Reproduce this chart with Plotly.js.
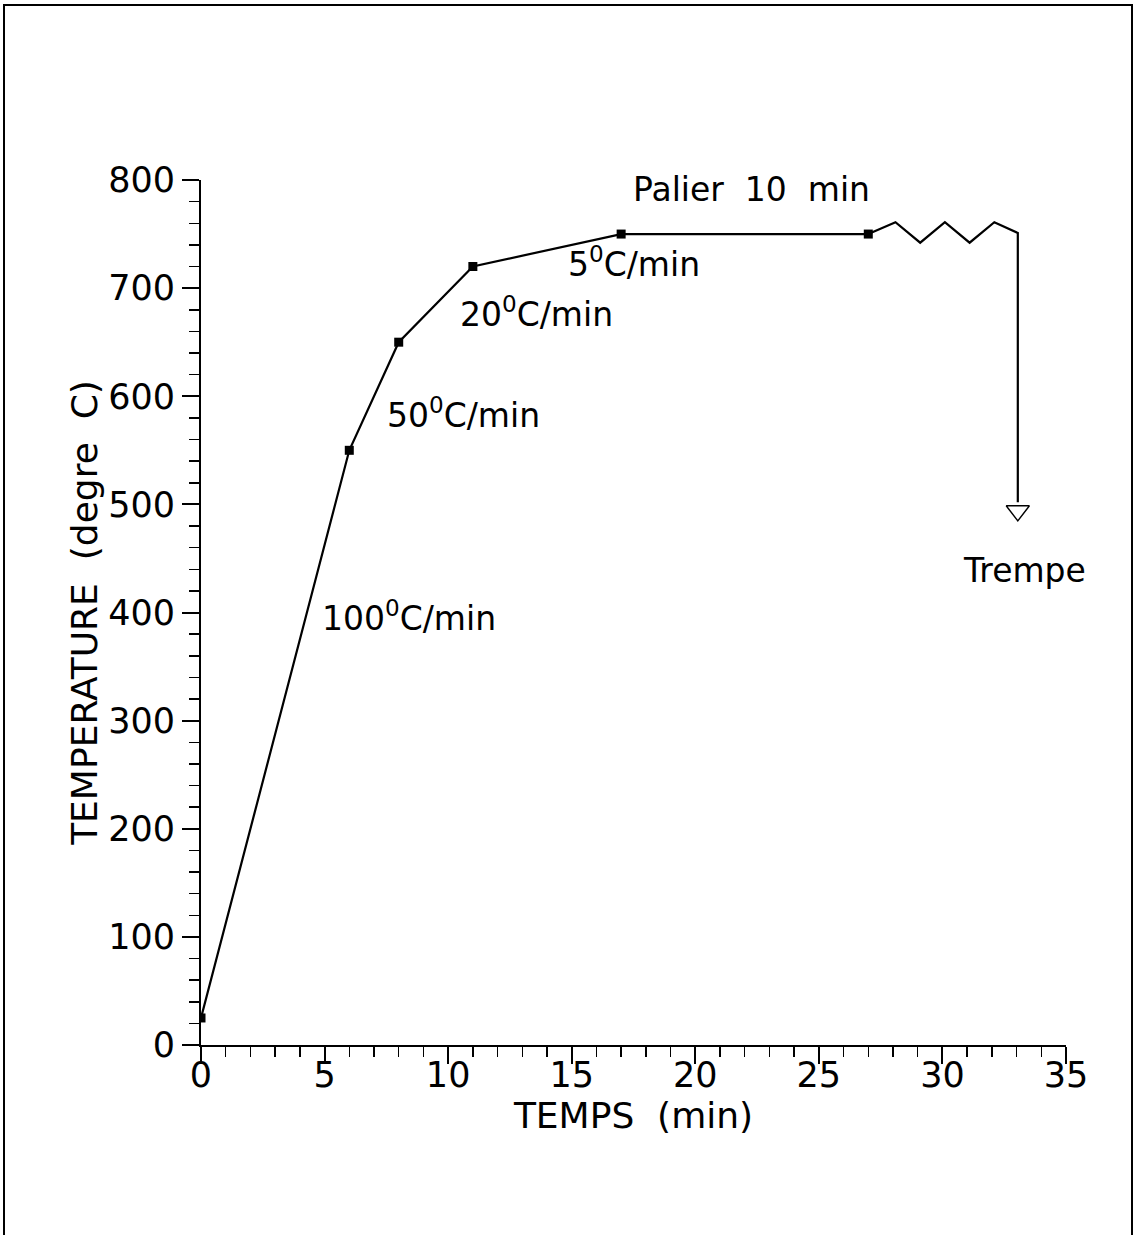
<!DOCTYPE html>
<html>
<head>
<meta charset="utf-8">
<script src="https://cdn.plot.ly/plotly-3.0.1.min.js"></script>
<style>
  html, body { margin: 0; padding: 0; background: #fff; }
  #wrap { position: relative; width: 1135px; height: 1235px; overflow: hidden; }
  #chart { width: 1135px; height: 1235px; }
  #frame { position: absolute; left: 3px; top: 4px; width: 1126px; height: 1250px;
           border: 2px solid #000; pointer-events: none; }
</style>
</head>
<body>
<div id="wrap">
  <div id="chart"></div>
  <div id="frame"></div>
</div>
<script>
// Heating cycle: time (min) and temperature (degre C) at each stage change
const stageTime = [0, 6, 8, 11, 17, 27];
const stageTemp = [25, 550, 650, 720, 750, 750];

// Quench branch: zigzag after the hold, then vertical drop to the arrow
const quenchTime = [27, 28.1, 29.1, 30.1, 31.1, 32.1, 33.05, 33.05];
const quenchTemp = [750, 761, 742, 761, 742, 761, 751, 502];
const arrowTime = [33.05];
const arrowTemp = [494];

// Segment labels
const labelText = ['100<sup>0</sup>C/min', '50<sup>0</sup>C/min', '20<sup>0</sup>C/min',
                   '5<sup>0</sup>C/min', 'Palier\u00a0\u00a010\u00a0\u00a0min', 'Trempe'];
const labelX = [4.8, 7.45, 10.4, 14.75, 17.4, 30.75];
const labelY = [396, 584, 677, 724, 791, 439];

const xTickVals = [0, 5, 10, 15, 20, 25, 30, 35];
const yTickVals = [0, 100, 200, 300, 400, 500, 600, 700, 800];

const FONT = '"DejaVu Sans", "Liberation Sans", sans-serif';

const traces = [
  {
    x: stageTime, y: stageTemp, type: 'scatter', mode: 'lines+markers',
    line: { color: '#000', width: 2.2 },
    marker: { symbol: 'square', size: 9, color: '#000' },
    hoverinfo: 'skip'
  },
  {
    x: quenchTime, y: quenchTemp, type: 'scatter', mode: 'lines',
    line: { color: '#000', width: 2.2 },
    hoverinfo: 'skip'
  },
  {
    x: arrowTime, y: arrowTemp, type: 'scatter', mode: 'markers',
    marker: { symbol: 'triangle-down-open', size: 20, color: '#000', line: { width: 1.5, color: '#000' } },
    hoverinfo: 'skip'
  }
];

const annotations = labelText.map((t, i) => ({
  x: labelX[i], y: labelY[i], xref: 'x', yref: 'y', text: t,
  showarrow: false, xanchor: 'left', yanchor: 'middle',
  font: { family: FONT, size: 33, color: '#000' }
}));

const layout = {
  width: 1135, height: 1235,
  margin: { l: 201, r: 69, t: 180, b: 190, pad: 0 },
  paper_bgcolor: '#fff', plot_bgcolor: '#fff',
  showlegend: false,
  font: { family: FONT, size: 34, color: '#000' },
  xaxis: {
    range: [0, 35], tickvals: xTickVals, ticktext: xTickVals.map(String),
    showgrid: false, zeroline: false, showline: true, linecolor: '#000', linewidth: 2,
    ticks: 'outside', ticklen: 17, tickwidth: 2, tickcolor: '#000',
    ticklabelstandoff: -19,
    minor: { dtick: 1, tick0: 0, ticks: 'outside', ticklen: 10, tickwidth: 1.5, tickcolor: '#000', showgrid: false },
    tickfont: { family: FONT, size: 35, color: '#000' },
    title: { text: '\u00a0TEMPS\u00a0\u00a0(min)', font: { family: FONT, size: 36, color: '#000' }, standoff: 6 }
  },
  yaxis: {
    range: [0, 800], tickvals: yTickVals, ticktext: yTickVals.map(String),
    showgrid: false, zeroline: false, showline: true, linecolor: '#000', linewidth: 2,
    ticks: 'outside', ticklen: 17, tickwidth: 2, tickcolor: '#000',
    minor: { dtick: 20, tick0: 0, ticks: 'outside', ticklen: 10, tickwidth: 1.5, tickcolor: '#000', showgrid: false },
    tickfont: { family: FONT, size: 35, color: '#000' },
    title: { text: 'TEMPERATURE\u00a0\u00a0(degre\u00a0\u00a0C)\u00a0\u00a0', font: { family: FONT, size: 36, color: '#000' }, standoff: 0 }
  },
  annotations: annotations
};

Plotly.newPlot('chart', traces, layout, { staticPlot: true, displayModeBar: false });
</script>
</body>
</html>
